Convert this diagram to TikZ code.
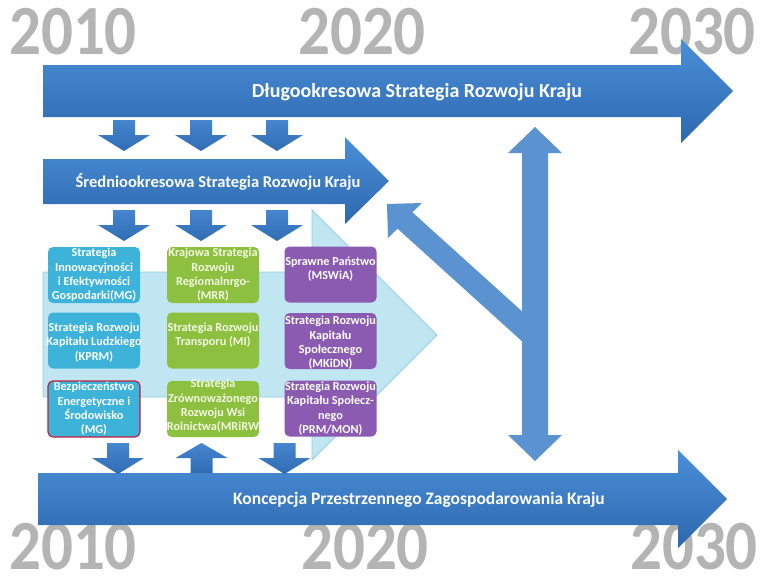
\documentclass[tikz,border=0pt]{standalone}
\usepackage{fontspec}
\setmainfont{Carlito}
\definecolor{yeargray}{HTML}{B4B4B4}
\definecolor{bigtop}{HTML}{4A8FD8}
\definecolor{bigbot}{HTML}{2D68AE}
\definecolor{smalltop}{HTML}{4686D0}
\definecolor{smallbot}{HTML}{2F6CB2}
\definecolor{linkblue}{HTML}{5A93CF}
\definecolor{chevfill}{HTML}{C0E6F2}
\definecolor{chevline}{HTML}{93CFE3}
\definecolor{cyanbox}{HTML}{3DB3DA}
\definecolor{greenbox}{HTML}{8DC03F}
\definecolor{purplebox}{HTML}{8A5BB1}
\definecolor{redline}{HTML}{C0203A}
\definecolor{greentext}{HTML}{F3F9E2}
\newcommand\blockdown[2]{%
  \shade[top color=smalltop,bottom color=smallbot]
    (#1-11,#2) -- (#1+11,#2) -- (#1+11,#2+15) -- (#1+26,#2+15) -- (#1,#2+31)
    -- (#1-26,#2+15) -- (#1-11,#2+15) -- cycle;}
\newcommand\blockup[2]{%
  \shade[top color=smalltop,bottom color=smallbot]
    (#1,#2) -- (#1+26,#2+15) -- (#1+11,#2+15) -- (#1+11,#2+30) -- (#1-11,#2+30)
    -- (#1-11,#2+15) -- (#1-26,#2+15) -- cycle;}
\newcommand\stratbox[7]{%
  \node[boxbase,fill=#2,#7] (#1) at (#3,#4) {};
  \node[boxtext] (#1t) at ([yshift=#5]#1.center) {#6};}
\begin{document}
\begin{tikzpicture}[x=1pt,y=-1pt,
  year/.style={text=yeargray,inner sep=0pt,font=\fontsize{63}{63}\selectfont\bfseries},
  arrowtext/.style={text=white,inner sep=0pt,font=\bfseries},
  boxbase/.style={rounded corners=5pt,minimum width=92pt,minimum height=56pt,inner sep=0pt},
  boxtext/.style={text=white,align=center,inner sep=0pt,font=\fontsize{12.2}{14.3}\selectfont\bfseries}]
\useasboundingbox (0,0) rectangle (761,576);
\fill[white] (0,0) rectangle (761,576);
% years
\node[year] (y1) at (73,32) {\scalebox{1}[1.12]{2010}};
\node[year] (y2) at (362,32) {\scalebox{1}[1.12]{2020}};
\node[year] (y3) at (692,32) {\scalebox{1}[1.12]{2030}};
\node[year] (y4) at (73,547) {\scalebox{1}[1.12]{2010}};
\node[year] (y5) at (365,547) {\scalebox{1}[1.12]{2020}};
\node[year] (y6) at (694,547) {\scalebox{1}[1.12]{2030}};
% light chevron
\filldraw[fill=chevfill,draw=chevline,line width=0.8pt]
  (43,272) -- (312,272) -- (312,210) -- (437,335) -- (312,460) -- (312,397) -- (43,397) -- cycle;
% big arrows
\shade[top color=bigtop,bottom color=bigbot]
  (43,65) -- (681,65) -- (681,39) -- (733,91) -- (681,143) -- (681,117) -- (43,117) -- cycle;
\shade[top color=bigtop,bottom color=bigbot]
  (43,159) -- (345,159) -- (345,137) -- (389,181) -- (345,224) -- (345,204) -- (43,204) -- cycle;
\shade[top color=bigtop,bottom color=bigbot]
  (38,473) -- (678,473) -- (678,450) -- (727,499) -- (678,548) -- (678,525) -- (38,525) -- cycle;
\node[arrowtext,font=\fontsize{20}{22}\selectfont\bfseries] (t1) at (417,92) {Długookresowa Strategia Rozwoju Kraju};
\node[arrowtext,font=\fontsize{16.5}{18}\selectfont\bfseries] (t2) at (218,182) {Średniookresowa Strategia Rozwoju Kraju};
\node[arrowtext,font=\fontsize{17.5}{19}\selectfont\bfseries] (t3) at (419,500) {Koncepcja Przestrzennego Zagospodarowania Kraju};
% small arrows
\blockdown{124}{120}\blockdown{201}{120}\blockdown{277}{120}
\blockdown{124}{210}\blockdown{201}{210}\blockdown{277}{210}
\blockdown{118}{443}\blockup{201.5}{443}\blockdown{284.5}{443}
% diagonal and vertical link arrows
\fill[linkblue] (525,314) -- (412.4,212.3) -- (422,203) -- (387,204) -- (388,238) -- (397.6,228.7) -- (525,344) -- cycle;
\fill[linkblue] (522,153) -- (508,153) -- (535,127) -- (562,153) -- (548,153) -- (548,435)
  -- (562,435) -- (535,461) -- (508,435) -- (522,435) -- cycle;
% boxes
\stratbox{a1}{cyanbox}{94}{275}{0pt}{Strategia\\Innowacyjności\\i Efektywności\\Gospodarki(MG)}{}
\stratbox{a2}{cyanbox}{94}{340.5}{-2pt}{Strategia Rozwoju\\Kapitału Ludzkiego\\(KPRM)}{}
\stratbox{a3}{cyanbox}{94}{409}{0pt}{Bezpieczeństwo\\Energetyczne i\\Środowisko\\(MG)}{draw=redline,line width=1.2pt}
\stratbox{b1}{greenbox}{213}{275}{0pt}{\color{greentext}Krajowa Strategia\\\color{greentext}Rozwoju\\\color{greentext}Regiomalnrgo-\\\color{greentext}(MRR)}{}
\stratbox{b2}{greenbox}{213}{340.5}{5.5pt}{\color{greentext}Strategia Rozwoju\\\color{greentext}Transporu (MI)}{}
\stratbox{b3}{greenbox}{213}{409}{3pt}{\color{greentext}Strategia\\\color{greentext}Zrównoważonego\\\color{greentext}Rozwoju Wsi\\\color{greentext}Rolnictwa(MRiRW}{}
\stratbox{c1}{purplebox}{330.5}{274.5}{5.5pt}{Sprawne Państwo\\(MSWiA)}{}
\stratbox{c2}{purplebox}{330.5}{341}{-2pt}{Strategia Rozwoju\\Kapitału\\Społecznego\\(MKiDN)}{}
\stratbox{c3}{purplebox}{330.5}{408.5}{0pt}{Strategia Rozwoju\\Kapitału Społecz-\\nego\\(PRM/MON)}{}
\end{tikzpicture}
\end{document}
